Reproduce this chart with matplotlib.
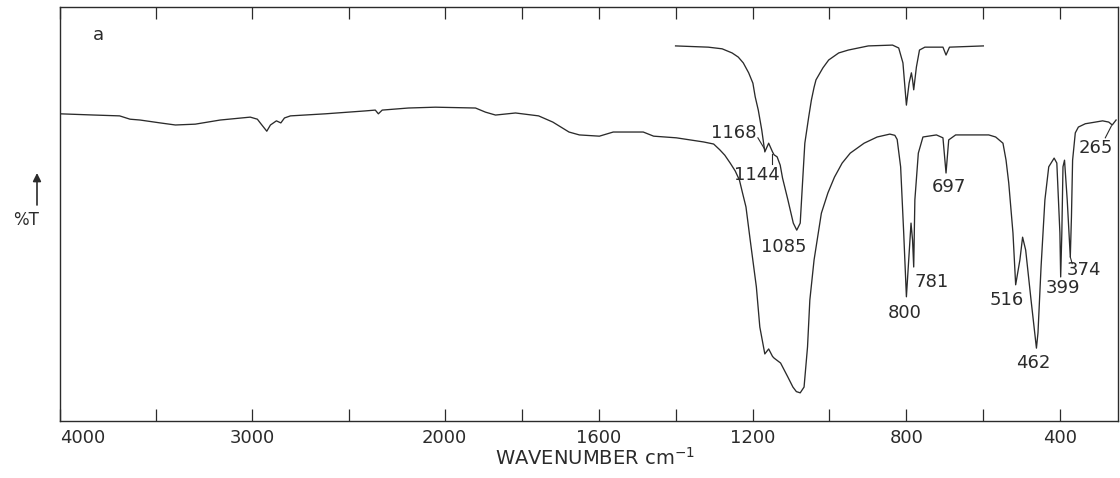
import numpy as np
import matplotlib
matplotlib.use("Agg")
import matplotlib.pyplot as plt
from matplotlib.ticker import FixedLocator, NullFormatter

plt.rcParams['font.family'] = ['DejaVu Sans']

# Lower trace: full-range spectrum (wavenumber cm-1, %T)
lower_wn = [4000, 3820, 3690, 3636, 3584, 3479, 3400, 3297, 3167, 3011,
            2974, 2954, 2925, 2906, 2875, 2852, 2833, 2802, 2620, 2413,
            2361, 2345, 2325, 2189, 2049, 1920, 1894, 1868, 1816, 1756,
            1719, 1677, 1650, 1598, 1562, 1484, 1457, 1398, 1327, 1301,
            1285, 1272, 1258, 1245, 1234, 1226, 1217, 1206, 1190, 1181,
            1168, 1158, 1148, 1144, 1127, 1108, 1095, 1086, 1076, 1066,
            1057, 1051, 1040, 1021, 1004, 987, 967, 946, 910, 876,
            843, 830, 824, 815, 807, 800, 794, 788, 784, 781,
            778, 769, 757, 722, 705, 697, 690, 672, 586, 568,
            549, 541, 534, 523, 516, 505, 498, 490, 476, 462,
            458, 450, 440, 430, 416, 409, 401, 399, 396, 393,
            389, 382, 374, 371, 368, 361, 353, 335, 309, 290,
            274, 265, 255]
lower_t = [74.2, 73.9, 73.7, 72.9, 72.7, 72.0, 71.5, 71.7, 72.7, 73.4,
           72.9, 71.7, 70.0, 71.5, 72.5, 72.0, 73.2, 73.7, 74.2, 74.9,
           75.1, 74.2, 75.1, 75.6, 75.8, 75.6, 74.6, 73.9, 74.4, 73.7,
           72.2, 69.8, 69.1, 68.8, 69.8, 69.8, 68.8, 68.4, 67.4, 66.9,
           65.5, 64.2, 62.3, 60.4, 58.2, 55.1, 51.7, 43.7, 32.4, 22.7,
           16.2, 17.4, 15.6, 15.2, 14.0, 10.6, 8.2, 7.1, 6.8, 8.2,
           17.9, 29.2, 38.9, 50.2, 55.1, 58.9, 62.3, 64.7, 67.1, 68.6,
           69.3, 69.0, 68.0, 61.4, 45.4, 30.0, 38.9, 47.8, 43.7, 37.2,
           53.4, 64.7, 68.6, 69.1, 68.4, 59.9, 67.9, 69.1, 69.1, 68.6,
           67.1, 63.0, 57.5, 45.4, 32.9, 38.9, 44.4, 41.3, 29.2, 17.6,
           21.3, 37.2, 53.4, 61.4, 63.5, 62.3, 45.4, 34.8, 45.4, 61.4,
           63.0, 53.4, 39.6, 49.3, 63.0, 69.6, 71.0, 71.8, 72.2, 72.5,
           72.2, 71.5, 72.7]

# Upper trace: offset spectrum over 1400-600 cm-1
upper_wn = [1400, 1315, 1279, 1253, 1237, 1224, 1210, 1199, 1193, 1185,
            1176, 1168, 1158, 1148, 1144, 1136, 1128, 1122, 1108, 1094,
            1085, 1076, 1070, 1064, 1054, 1047, 1040, 1035, 1017, 1002,
            976, 951, 899, 836, 820, 809, 800, 793, 787, 784,
            781, 774, 766, 752, 705, 697, 688, 600]
upper_t = [90.6, 90.3, 89.9, 88.9, 87.9, 86.5, 84.1, 81.6, 78.3, 75.1,
           70.3, 65.0, 67.1, 65.0, 64.3, 63.8, 61.8, 58.7, 53.4, 47.8,
           46.1, 47.8, 57.5, 67.1, 73.4, 77.5, 80.6, 82.4, 85.3, 87.2,
           88.9, 89.6, 90.6, 90.8, 90.1, 86.5, 76.3, 81.6, 84.1, 82.4,
           80.0, 85.5, 89.6, 90.3, 90.3, 88.4, 90.3, 90.6]

# Peak labels: text, label centre (wavenumber, %T)
peak_labels = ["1168", "1144", "1085", "800", "781", "697",
               "516", "462", "399", "374", "265"]
peak_label_x = [1249, 1188, 1119, 805, 734, 689, 539, 470, 394, 338, 307]
peak_label_y = [69.6, 59.4, 42.0, 26.1, 33.6, 56.5, 29.2, 14.0, 32.1, 36.5, 65.9]

major_ticks = [4000, 3000, 2000, 1600, 1200, 800, 400]
major_labels = ["4000", "3000", "2000", "1600", "1200", "800", "400"]
minor_ticks = [3500, 2500, 1800, 1400, 1000, 600]


def fwd(w):
    # abscissa expands two-fold below 2000 cm-1
    w = np.asarray(w, dtype=float)
    return np.where(w > 2000, 2000 + (w - 2000) / 2.0, w)


def inv(u):
    u = np.asarray(u, dtype=float)
    return np.where(u > 2000, 2000 + (u - 2000) * 2.0, u)


ink = "#2b2b2b"
fig = plt.figure(figsize=(11.2, 4.78), dpi=100)
ax = fig.add_axes([60 / 1120, 57 / 478, 1058 / 1120, 414 / 478])
ax.set_xscale('function', functions=(fwd, inv))

ax.plot(lower_wn, lower_t, color=ink, lw=0.95, solid_joinstyle='round')
ax.plot(upper_wn, upper_t, color=ink, lw=0.95, solid_joinstyle='round')

ax.set_xlim(4000, 250)
ax.set_ylim(0, 100)

for s in ax.spines.values():
    s.set_color(ink)
    s.set_linewidth(1.0)

ax.xaxis.set_major_locator(FixedLocator(major_ticks))
ax.xaxis.set_minor_locator(FixedLocator(minor_ticks))
ax.xaxis.set_minor_formatter(NullFormatter())
ax.set_xticklabels(major_labels)
ax.tick_params(axis='x', which='both', direction='in', length=8.6,
               width=0.9, color=ink, top=True, bottom=True,
               labelsize=13, labelcolor=ink, pad=6)
ax.xaxis.get_major_ticks()[0].label1.set_horizontalalignment('left')
ax.set_yticks([])

ax.set_xlabel("WAVENUMBER cm$^{-1}$", fontsize=14, color=ink)
ax.xaxis.set_label_coords(0.506, -0.062)

# sample tag
ax.text(3800, 93.2, "a", fontsize=13, color=ink, ha='center', va='center')

for txt, lx, ly in zip(peak_labels, peak_label_x, peak_label_y):
    ax.text(lx, ly, txt, fontsize=13, color=ink, ha='center', va='center')

# leader lines
leader_kw = dict(color=ink, lw=0.8)
ax.plot([1186, 1168], [68.4, 65.6], **leader_kw)
ax.plot([1150, 1150], [64.6, 62.0], **leader_kw)
ax.plot([374, 369], [39.6, 38.0], **leader_kw)
ax.plot([283, 267], [68.4, 71.3], **leader_kw)

# ordinate caption with arrow
fig.text(26 / 1120, 258 / 478, "%T", fontsize=12, color=ink,
         ha='center', va='center')
ax.annotate("", xy=(37, 305), xycoords='figure pixels',
            xytext=(37, 273), textcoords='figure pixels',
            arrowprops=dict(arrowstyle='-|>', color=ink, lw=1.2,
                            mutation_scale=12, shrinkA=0, shrinkB=0))

fig.savefig("out.png", dpi=100, facecolor='white')
